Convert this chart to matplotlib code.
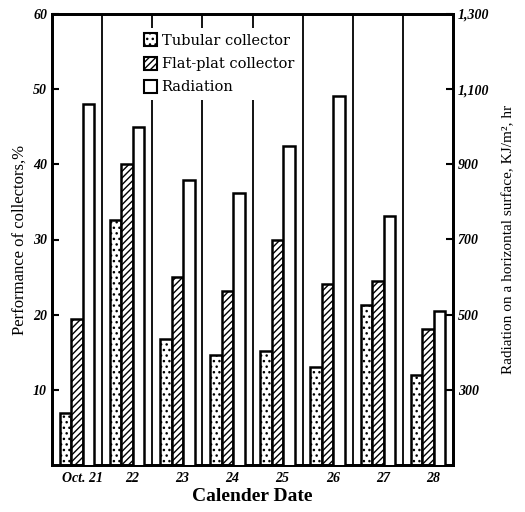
import matplotlib
matplotlib.use("Agg")
import matplotlib.pyplot as plt
from matplotlib.patches import Patch
import numpy as np

plt.rcParams['hatch.linewidth'] = 1.0

dates = ["Oct. 21", "22", "23", "24", "25", "26", "27", "28"]
tubular = [6.9, 32.6, 16.8, 14.6, 15.1, 13.1, 21.3, 12.0]
flat_plate = [19.4, 40.0, 25.0, 23.1, 30.0, 24.1, 24.5, 18.1]
radiation = [1060, 1000, 858, 823, 948, 1082, 762, 510]

left_ticks = [10, 20, 30, 40, 50, 60]
right_ticks = [300, 500, 700, 900, 1100, 1300]
right_labels = ["300", "500", "700", "900", "1,100", "1,300"]

serif = ["Liberation Serif", "DejaVu Serif"]

fig = plt.figure(figsize=(5.25, 5.12), dpi=100)
ax = fig.add_axes([52/525, 47/512, 401/525, 451/512])
ax2 = ax.twinx()

n = len(dates)
x = np.arange(n) + 0.5
w = 0.23

ax.bar(x - w, tubular, w, color="white", edgecolor="black", linewidth=1.8,
       hatch="...", zorder=3)
ax.bar(x, flat_plate, w, color="white", edgecolor="black", linewidth=1.8,
       hatch="/////", zorder=3)
ax2.bar(x + w, radiation, w, bottom=0, color="white", edgecolor="black",
        linewidth=1.8, zorder=3)

for b in range(1, n):
    ax.axvline(b, color="black", linewidth=1.3, zorder=1)

ax.set_xlim(0, n)
ax.set_ylim(0, 60)
ax2.set_ylim(100, 1300)

ax.set_yticks(left_ticks)
ax.set_yticklabels([str(t) for t in left_ticks], fontfamily=serif,
                   fontweight="bold", fontstyle="italic", fontsize=10)
ax2.set_yticks(right_ticks)
ax2.set_yticklabels(right_labels, fontfamily=serif, fontweight="bold",
                    fontstyle="italic", fontsize=10)
ax.set_xticks(x + 0.1)
ax.set_xticklabels(dates, fontfamily=serif, fontweight="bold",
                   fontstyle="italic", fontsize=10)
ax.tick_params(axis="x", length=0, pad=5)
ax.tick_params(axis="y", direction="in", length=5, width=1.5)
ax2.tick_params(axis="y", direction="in", length=5, width=1.5)

for a in (ax, ax2):
    for s in a.spines.values():
        s.set_linewidth(2.0)

ax.set_ylabel("Performance of collectors,%", fontfamily=serif, fontsize=12,
              labelpad=4)
ax2.set_ylabel("Radiation on a horizontal surface, KJ/m², hr",
               fontfamily=serif, fontsize=11, labelpad=9)
ax.set_xlabel("Calender Date", fontfamily=serif, fontweight="bold",
              fontsize=14, labelpad=2)

handles = [
    Patch(facecolor="white", edgecolor="black", hatch="...", linewidth=1.5,
          label="Tubular collector"),
    Patch(facecolor="white", edgecolor="black", hatch="/////", linewidth=1.5,
          label="Flat-plat collector"),
    Patch(facecolor="white", edgecolor="black", linewidth=1.5,
          label="Radiation"),
]
leg = ax2.legend(handles=handles, loc="upper left",
                 bbox_to_anchor=(0.215, 0.97), frameon=True, fancybox=False,
                 prop={"family": ["DejaVu Serif"], "size": 10.5},
                 handlelength=0.9, handleheight=1.0, handletextpad=0.3,
                 labelspacing=0.6, borderpad=0.4, borderaxespad=0.0)
leg.get_frame().set_edgecolor("none")
leg.get_frame().set_facecolor("white")
leg.get_frame().set_alpha(1.0)
leg.set_zorder(10)

fig.savefig("out.png", dpi=100)
